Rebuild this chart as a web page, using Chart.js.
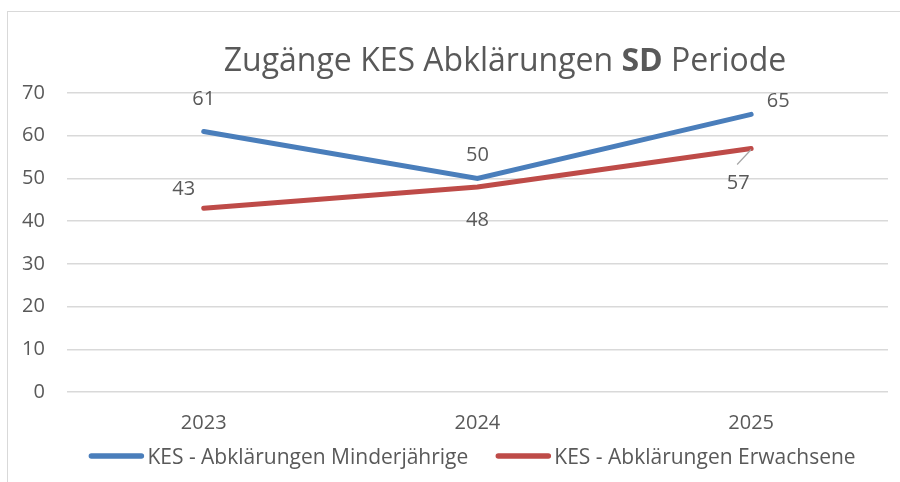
<!DOCTYPE html>
<html>
<head>
<meta charset="utf-8">
<script src="https://cdn.jsdelivr.net/npm/chart.js@4.4.1/dist/chart.umd.min.js"></script>
<style>
  html, body { margin: 0; padding: 0; background: #fff; overflow: hidden; }
  #wrap { position: relative; width: 900px; height: 482px; }
  #frame { position: absolute; left: 7px; top: 11px; width: 1000px; height: 600px; border: 1px solid #d9d9d9; }
  canvas { position: absolute; left: 0; top: 0; }
</style>
</head>
<body>
<div id="wrap">
  <div id="frame"></div>
  <canvas id="chart" width="900" height="482"></canvas>
</div>
<script>
// chart data
const years = ['2023', '2024', '2025'];
const minderjaehrige = [61, 50, 65];
const erwachsene = [43, 48, 57];
const seriesNames = ['KES - Abklärungen Minderjährige', 'KES - Abklärungen Erwachsene'];

const textColor = '#595959';
const fontFamily = '"Open Sans", "Liberation Sans", sans-serif';

// title with bold "SD" part, drawn by hand
const titlePlugin = {
    id: 'mixedTitle',
    afterDraw(chart) {
        const ctx = chart.ctx;
        const parts = [
            { text: 'Zugänge KES Abklärungen ', bold: false },
            { text: 'SD', bold: true },
            { text: ' Periode', bold: false }
        ];
        const size = 32;
        ctx.save();
        ctx.fillStyle = textColor;
        ctx.textBaseline = 'alphabetic';
        let total = 0;
        parts.forEach(p => {
            ctx.font = (p.bold ? 'bold ' : '') + size + 'px ' + fontFamily;
            p.w = ctx.measureText(p.text).width;
            total += p.w;
        });
        let x = 505 - total / 2;
        parts.forEach(p => {
            ctx.font = (p.bold ? 'bold ' : '') + size + 'px ' + fontFamily;
            ctx.fillText(p.text, x, 71);
            x += p.w;
        });
        ctx.restore();
    }
};

// value labels next to each point
const labelPlugin = {
    id: 'valueLabels',
    afterDatasetsDraw(chart, args, opts) {
        const ctx = chart.ctx;
        ctx.save();
        ctx.font = '20px ' + fontFamily;
        ctx.fillStyle = textColor;
        ctx.textAlign = 'center';
        ctx.textBaseline = 'middle';
        chart.data.datasets.forEach((ds, i) => {
            const meta = chart.getDatasetMeta(i);
            meta.data.forEach((pt, j) => {
                const off = opts.offsets[i][j];
                ctx.fillText(String(ds.data[j]), pt.x + off[0], pt.y + off[1]);
            });
        });
        // small leader line for the last red label
        const p = chart.getDatasetMeta(1).data[2];
        ctx.strokeStyle = '#a6a6a6';
        ctx.lineWidth = 1.2;
        ctx.beginPath();
        ctx.moveTo(p.x, p.y + 1);
        ctx.lineTo(p.x - 14, p.y + 16);
        ctx.stroke();
        ctx.restore();
    }
};

// legend drawn by hand: short line, tight gap before the text
const lineLegend = {
    id: 'lineLegend',
    afterDraw(chart) {
        const ctx = chart.ctx;
        const lineLen = 56, gap = 3, itemGap = 27, centerX = 472, y = 457;
        ctx.save();
        ctx.font = '21px ' + fontFamily;
        ctx.textBaseline = 'middle';
        const items = chart.data.datasets.map(ds => ({
            text: ds.label,
            color: ds.borderColor,
            w: ctx.measureText(ds.label).width
        }));
        let total = 0;
        items.forEach((it, i) => { total += lineLen + gap + it.w + (i ? itemGap : 0); });
        let x = centerX - total / 2;
        items.forEach(it => {
            ctx.strokeStyle = it.color;
            ctx.lineWidth = 5.5;
            ctx.lineCap = 'round';
            ctx.beginPath();
            ctx.moveTo(x + 3, y - 1);
            ctx.lineTo(x + lineLen - 3, y - 1);
            ctx.stroke();
            ctx.fillStyle = textColor;
            ctx.fillText(it.text, x + lineLen + gap, y + 1);
            x += lineLen + gap + it.w + itemGap;
        });
        ctx.restore();
    }
};

const ctx = document.getElementById('chart').getContext('2d');
new Chart(ctx, {
    type: 'line',
    data: {
        labels: years,
        datasets: [{
            label: seriesNames[0],
            data: minderjaehrige,
            borderColor: '#4a7ebb',
            backgroundColor: '#4a7ebb',
            borderWidth: 5,
            borderCapStyle: 'round',
            pointRadius: 0,
            tension: 0
        }, {
            label: seriesNames[1],
            data: erwachsene,
            borderColor: '#be4b48',
            backgroundColor: '#be4b48',
            borderWidth: 5,
            borderCapStyle: 'round',
            pointRadius: 0,
            tension: 0
        }]
    },
    options: {
        responsive: false,
        animation: false,
        layout: {
            padding: { top: 93, left: 0, right: 12, bottom: 28 }
        },
        scales: {
            x: {
                offset: true,
                grid: { display: false, drawTicks: false },
                border: { display: false },
                ticks: { color: textColor, font: { size: 20, family: fontFamily }, padding: 19 }
            },
            y: {
                min: 0,
                max: 70,
                ticks: { stepSize: 10, color: textColor, font: { size: 20, family: fontFamily }, padding: 22 },
                grid: { color: '#d9d9d9', lineWidth: 1.4, drawTicks: false },
                border: { display: false }
            }
        },
        plugins: {
            title: { display: false },
            tooltip: { enabled: false },
            legend: { display: false },
            valueLabels: {
                offsets: [
                    [[0, -32], [0, -23], [27, -13]],
                    [[-20, -19], [0, 33], [-13, 35]]
                ]
            }
        }
    },
    plugins: [titlePlugin, labelPlugin, lineLegend]
});
</script>
</body>
</html>
